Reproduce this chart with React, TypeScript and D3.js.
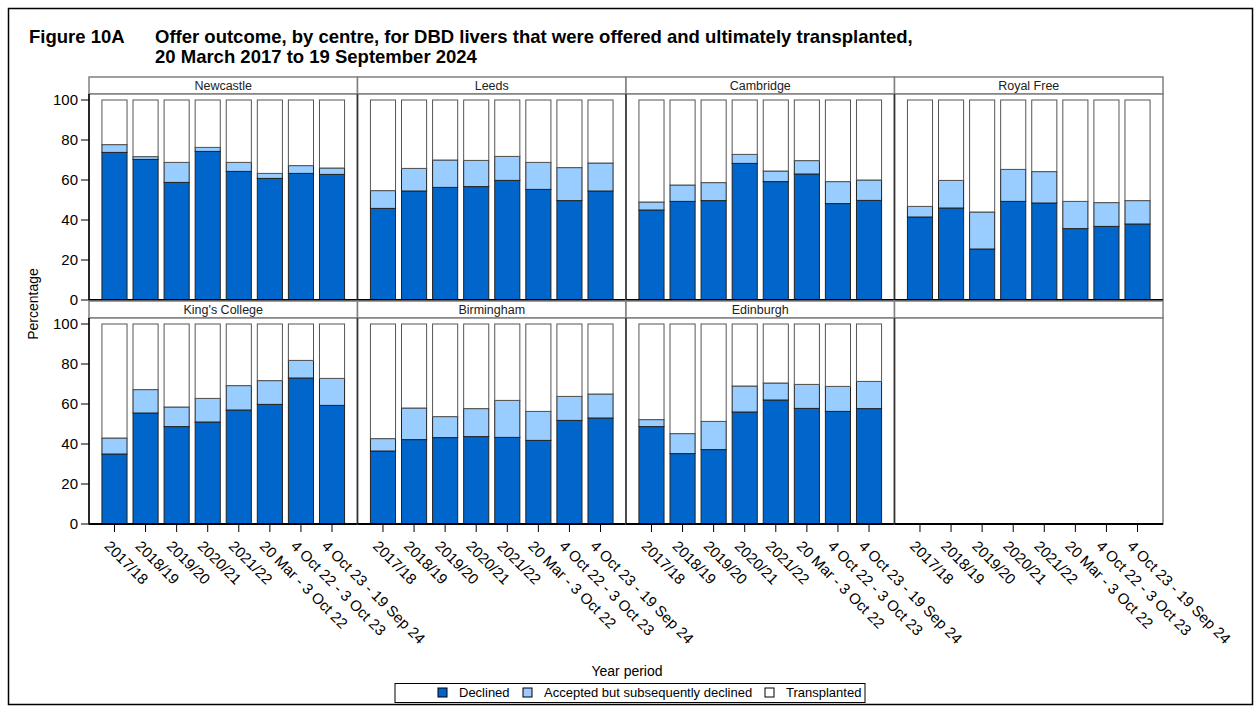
import React from 'react';
import * as d3 from 'd3';

// periods on the x axis
const periods: string[] = [
    "2017/18",
    "2018/19",
    "2019/20",
    "2020/21",
    "2021/22",
    "20 Mar - 3 Oct 22",
    "4 Oct 22 - 3 Oct 23",
    "4 Oct 23 - 19 Sep 24",
];

const centres: string[] = ["Newcastle", "Leeds", "Cambridge", "Royal Free", "King's College", "Birmingham", "Edinburgh"];

// % declined
const declined: number[][] = [
    [73.8, 70.3, 58.8, 74.3, 64.3, 60.8, 63.3, 62.8],
    [45.8, 54.5, 56.3, 56.7, 59.8, 55.3, 49.7, 54.5],
    [45.0, 49.3, 49.7, 68.3, 59.2, 63.0, 48.2, 49.8],
    [41.5, 46.0, 25.5, 49.3, 48.5, 35.7, 36.8, 38.0],
    [35.0, 55.5, 48.7, 51.0, 57.0, 59.8, 73.0, 59.3],
    [36.5, 42.2, 43.2, 43.7, 43.3, 41.8, 51.8, 53.0],
    [48.7, 35.2, 37.2, 56.0, 62.0, 57.8, 56.3, 57.7],
];

// % accepted but subsequently declined
const accepted: number[][] = [
    [3.9, 1.4, 10.0, 2.0, 4.5, 2.5, 3.9, 3.2],
    [8.9, 11.3, 13.7, 13.1, 12.0, 13.5, 16.5, 14.0],
    [4.0, 8.2, 9.0, 4.5, 5.3, 6.7, 11.0, 10.2],
    [5.3, 13.8, 18.5, 16.0, 15.7, 13.6, 11.9, 11.7],
    [8.0, 11.7, 9.8, 11.8, 12.2, 11.9, 8.8, 13.5],
    [6.2, 15.8, 10.5, 14.0, 18.5, 14.5, 12.0, 12.0],
    [3.5, 10.0, 14.1, 13.0, 8.5, 12.0, 12.5, 13.6],
];

const seriesNames: string[] = ["Declined", "Accepted but subsequently declined", "Transplanted"];
const seriesColors: string[] = ["#0066CC", "#99CCFF", "#FFFFFF"];
const yTicks: number[] = [0, 20, 40, 60, 80, 100];

const font = "'Liberation Sans', Arial, sans-serif";

const App: React.FC = () => {
    const width = 1255;
    const height = 713;
    const gridLeft = 89;
    const gridRight = 1163;
    const rowTop0 = 77;
    const rowStep = 224;
    const stripH = 17;
    const plotH = 206;

    const colX = d3.scaleBand<number>().domain([0, 1, 2, 3]).range([gridLeft, gridRight]);
    const panelW = colX.bandwidth();

    const rowY = (r: number) => rowTop0 + r * rowStep;

    const panels = [0, 1, 2, 3, 4, 5, 6, 7].map((k) => ({
        k,
        col: k % 4,
        row: Math.floor(k / 4),
        name: centres[k] ?? "",
        hasData: k < centres.length,
    }));

    return (
        <svg width={width} height={height} style={{ position: 'absolute', left: 0, top: 0, background: '#fff' }} fontFamily={font}>
            <rect x={8.5} y={8.5} width={1244} height={696} fill="none" stroke="#000" strokeWidth={1.5} />
            <text x={29} y={43} fontSize={18.5} fontWeight="bold">Figure 10A</text>
            <text x={155} y={43} fontSize={18.5} fontWeight="bold">Offer outcome, by centre, for DBD livers that were offered and ultimately transplanted,</text>
            <text x={155} y={63} fontSize={18.5} fontWeight="bold">20 March 2017 to 19 September 2024</text>

            {panels.map((p) => {
                const x0 = colX(p.col) as number;
                const top = rowY(p.row);
                const plotTop = top + stripH;
                const plotBottom = plotTop + plotH;
                const y = d3.scaleLinear().domain([0, 103]).range([plotBottom, plotTop]);
                const xb = d3.scaleBand<string>().domain(periods).range([x0, x0 + panelW]).paddingInner(0.16).paddingOuter(0.4);
                const stack = p.hasData
                    ? periods.map((per, i) => {
                        const d = declined[p.k][i];
                        const a = accepted[p.k][i];
                        return { per, segs: [[0, d], [d, d + a], [d + a, 100]] };
                    })
                    : [];
                return (
                    <g key={p.k}>
                        <rect x={x0} y={top} width={panelW} height={stripH} fill="#fff" stroke="#808080" strokeWidth={1.5} />
                        <text x={x0 + panelW / 2} y={top + 13} fontSize={12.5} textAnchor="middle" fill="#222">{p.name}</text>
                        <rect x={x0} y={plotTop} width={panelW} height={plotH} fill="#fff" stroke="#808080" strokeWidth={1.5} />
                        {stack.map((b) => (
                            <g key={b.per}>
                                {b.segs.map((s, j) => (
                                    <rect
                                        key={j}
                                        x={(xb(b.per) as number) + 0.5}
                                        y={y(s[1])}
                                        width={xb.bandwidth() - 1}
                                        height={y(s[0]) - y(s[1])}
                                        fill={seriesColors[j]}
                                        stroke={j === 2 ? "#555" : "#222"}
                                        strokeWidth={1}
                                    />
                                ))}
                            </g>
                        ))}
                        {p.col > 0 && (
                            <line x1={x0} x2={x0} y1={plotTop} y2={plotBottom} stroke="#333" strokeWidth={1.5} />
                        )}
                        <line x1={x0} x2={x0 + panelW} y1={plotBottom} y2={plotBottom} stroke="#000" strokeWidth={2} />
                        {p.row === 1 && periods.map((per) => {
                            const cx = (xb(per) as number) + xb.bandwidth() / 2;
                            return (
                                <g key={per}>
                                    <line x1={cx} x2={cx} y1={plotBottom} y2={plotBottom + 8} stroke="#000" strokeWidth={1} />
                                    <text
                                        transform={`translate(${cx - 11},${plotBottom + 23}) rotate(45)`}
                                        fontSize={15}
                                        fill="#000"
                                    >{per}</text>
                                </g>
                            );
                        })}
                        {p.col === 0 && (
                            <g>
                                <line x1={x0} x2={x0} y1={plotTop} y2={plotBottom} stroke="#000" strokeWidth={1.5} />
                                {yTicks.map((t) => (
                                    <g key={t}>
                                        <line x1={x0 - 8} x2={x0} y1={y(t)} y2={y(t)} stroke="#000" strokeWidth={1} />
                                        <text x={x0 - 11} y={y(t) + 5} fontSize={15} textAnchor="end" fill="#000">{t}</text>
                                    </g>
                                ))}
                            </g>
                        )}
                    </g>
                );
            })}

            <text transform="translate(38,304) rotate(-90)" fontSize={14} textAnchor="middle">Percentage</text>
            <text x={627} y={676} fontSize={14} textAnchor="middle">Year period</text>

            <rect x={395} y={683.5} width={470} height={19} fill="#fff" stroke="#000" strokeWidth={1} />
            {seriesNames.map((n, i) => {
                const lx = [438, 523, 765][i];
                return (
                    <g key={n}>
                        <rect x={lx} y={688} width={9} height={9} fill={seriesColors[i]} stroke="#000" strokeWidth={1} />
                        <text x={lx + 21} y={697} fontSize={13}>{n}</text>
                    </g>
                );
            })}
        </svg>
    );
};

export default App;
